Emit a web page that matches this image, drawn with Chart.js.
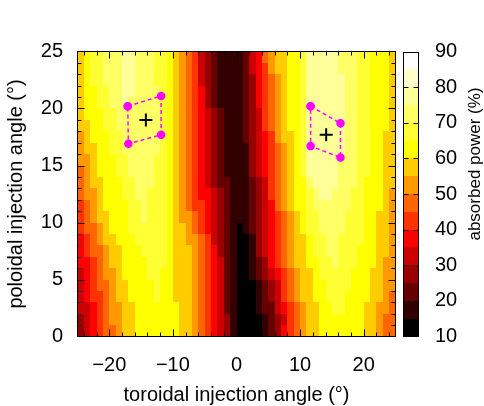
<!DOCTYPE html>
<html>
<head>
<meta charset="utf-8">
<script src="https://cdn.jsdelivr.net/npm/chart.js@4.4.1/dist/chart.umd.min.js"></script>
<style>
  html, body { margin: 0; padding: 0; background: #fff; }
  canvas { display: block; }
</style>
</head>
<body>
<canvas id="power-map" width="484" height="406"></canvas>
<script>
// cell centres (deg)
const toroidal = [-24.5, -23.5, -22.5, -21.5, -20.5, -19.5, -18.5, -17.5, -16.5, -15.5,
                  -14.5, -13.5, -12.5, -11.5, -10.5, -9.5, -8.5, -7.5, -6.5, -5.5,
                  -4.5, -3.5, -2.5, -1.5, -0.5, 0.5, 1.5, 2.5, 3.5, 4.5,
                  5.5, 6.5, 7.5, 8.5, 9.5, 10.5, 11.5, 12.5, 13.5, 14.5,
                  15.5, 16.5, 17.5, 18.5, 19.5, 20.5, 21.5, 22.5, 23.5, 24.5];
const poloidal = [24.5, 23.5, 22.5, 21.5, 20.5, 19.5, 18.5, 17.5, 16.5, 15.5, 14.5, 13.5,
                  12.5, 11.5, 10.5, 9.5, 8.5, 7.5, 6.5, 5.5, 4.5, 3.5, 2.5, 1.5, 0.5];

// absorbed power band per cell, one hex digit: 0 = 10-15 %, 1 = 15-20 % ... F = 85-90 %
// rows follow `poloidal` (top row first), columns follow `toroidal` (groups of 10)
const absorbedBands = [
  "9ABBCCCDDC CCBBA98764 3211112457 899AABDDDD DCCCBBAAA9",
  "9ABBCCCDDC CCBBA98764 3211112456 899AABDDDD DCCCBBAAA9",
  "9ABBCCCDDC CCBBA98764 3211112356 789AABDDDD DDCCBBAAA9",
  "9AABBCCDDC CCCBA98765 3211112356 789AABDDDD DDCCBBAAA9",
  "9AABBCCDCC CCCBA98765 3211112356 789AABDDDD DDCCBBAAA9",
  "9AAABBCCCC CCCBA98765 4321112346 789AABDDDD DDCCBBAAA9",
  "99AABBCCCC CCCBA98765 4321112346 789AABDDDD DDCCBBAAA9",
  "89AAABBCCC CCCBA98765 4321112345 6899ABDDDD DDCCBBAA99",
  "899AABBCCC CCCBA98765 4321111345 6789ABDDDD DDCCBBAA99",
  "889AAABBCC CCBBA98765 4321111345 6789ABDDDD DCCCBBAA99",
  "789AAABBCC CCBBA98765 4321111345 6789ABDDDD DCCCBBAA99",
  "7899AAABBC CCBBA98765 4322111234 6789AACDDD DCCCBAAA99",
  "7889AAABBC CBBBA98765 5432111234 6789AABCDD CCCBBAAA98",
  "6789AAAABB CBBBA98766 5432111234 5789AABCCC CCCBBAAA98",
  "67899AAABB CBBBA98876 5432111234 56789ABBCC CCBBBAA998",
  "67789AAABB BBBBA99876 5432101234 56789ABBCC CCBBBAA998",
  "567899AAAB BBBBA99887 6432100134 567899ABBC CBBBBAA998",
  "5677899AAA BBBBA99987 6532100134 567899ABBC CBBBAAA998",
  "5567899AAA ABBBA99987 6542100123 567899AABB CBBBAAA988",
  "4567889AAA ABBAA99987 6542100123 4567899ABB BBBAAA9988",
  "45677899AA AABAA99987 6542100012 3467899AAB BBBAAA9988",
  "45667899AA AABAA99987 6542100012 3467899AAB BBAAAA9987",
  "445678899A AAAAAA9987 6542100012 24567899AA BBAAA99887",
  "345678899A AAAAAA9987 6543100001 23467899AA AAAAA99877",
  "345677899A AAAAAA9987 6543100001 23567899AA AAAAA99877"
].map(s => s.replace(/ /g, ''));

// colour bar bands (%)
const bandEdges = [10, 15, 20, 25, 30, 35, 40, 45, 50, 55, 60, 65, 70, 75, 80, 85, 90];
const palette = ['#000000', '#330000', '#660000', '#990000', '#cc0000', '#ff0000', '#ff3300', '#ff6600',
                 '#ff9900', '#ffcc00', '#ffff00', '#ffff33', '#ffff66', '#ffff99', '#ffffcc', '#ffffff'];

// launcher ranges (corners, closed) and optimum points
const leftBeamTor = [-17.1, -11.85, -11.85, -17.0, -17.1];
const leftBeamPol = [20.2, 21.1, 17.7, 16.9, 20.2];
const rightBeamTor = [11.65, 16.35, 16.35, 11.65, 11.65];
const rightBeamPol = [20.2, 18.7, 15.7, 16.7, 20.2];
const optimumTor = [-14.25, 14.1];
const optimumPol = [19.0, 17.7];

// tick labels
const xTicks = [-20, -10, 0, 10, 20];
const yTicks = [0, 5, 10, 15, 20, 25];
const cbTicks = [10, 20, 30, 40, 50, 60, 70, 80, 90];

const FONT = '"Liberation Sans", Arial, sans-serif';
const fmt = v => (v < 0 ? '\u2212' + Math.abs(v) : String(v));
const pts = (xs, ys) => xs.map((v, i) => ({ x: v, y: ys[i] }));

const heatmap = {
  id: 'heatmap',
  beforeDatasetsDraw(chart) {
    const { ctx, scales: { x, y, cb } } = chart;
    ctx.save();
    absorbedBands.forEach((row, r) => {
      const yTop = Math.round(y.getPixelForValue(poloidal[r] + 0.5));
      const yBot = Math.round(y.getPixelForValue(poloidal[r] - 0.5));
      for (let i = 0; i < toroidal.length; i++) {
        const x0 = Math.round(x.getPixelForValue(toroidal[i] - 0.5));
        const x1 = Math.round(x.getPixelForValue(toroidal[i] + 0.5));
        ctx.fillStyle = palette[parseInt(row[i], 16)];
        ctx.fillRect(x0, yTop, x1 - x0, yBot - yTop);
      }
    });
    // colour bar
    const cbL = 403, cbR = 419;
    for (let k = 0; k < palette.length; k++) {
      const yA = Math.round(cb.getPixelForValue(bandEdges[k + 1]));
      const yB = Math.round(cb.getPixelForValue(bandEdges[k]));
      ctx.fillStyle = palette[k];
      ctx.fillRect(cbL, yA, cbR - cbL, yB - yA);
    }
    ctx.restore();
  },
  afterDatasetsDraw(chart) {
    const { ctx, chartArea: a, scales: { x, y, cb } } = chart;
    ctx.save();
    ctx.strokeStyle = '#000';
    ctx.lineWidth = 1;
    const line = (x0, y0, x1, y1) => { ctx.beginPath(); ctx.moveTo(x0, y0); ctx.lineTo(x1, y1); ctx.stroke(); };
    ctx.strokeRect(a.left, a.top, a.right - a.left, a.bottom - a.top);
    for (let v = -24; v <= 24; v += 2) {
      const px = Math.round(x.getPixelForValue(v)) + 0.5;
      const len = v % 10 === 0 ? 7 : 4;
      line(px, a.bottom, px, a.bottom - len);
      line(px, a.top, px, a.top + len);
    }
    for (let v = 1; v < 25; v++) {
      const py = Math.round(y.getPixelForValue(v)) + 0.5;
      const len = v % 5 === 0 ? 7 : 4;
      line(a.left, py, a.left + len, py);
      line(a.right, py, a.right - len, py);
    }
    // colour bar frame + ticks
    const cbL = 403.5, cbR = 418.5;
    const cTop = Math.round(cb.getPixelForValue(90)) + 0.5, cBot = Math.round(cb.getPixelForValue(10)) - 0.5;
    ctx.strokeRect(cbL, cTop, cbR - cbL, cBot - cTop);
    for (let v = 20; v <= 80; v += 10) {
      const py = Math.round(cb.getPixelForValue(v)) + 0.5;
      line(cbL, py, cbL + 5, py);
      line(cbR, py, cbR - 5, py);
    }
    // axis titles
    ctx.fillStyle = '#000';
    ctx.textAlign = 'center';
    ctx.textBaseline = 'alphabetic';
    ctx.font = '20px ' + FONT;
    ctx.fillText('toroidal injection angle (\u00b0)', (a.left + a.right) / 2, 401);
    ctx.save();
    ctx.translate(22, (a.top + a.bottom) / 2);
    ctx.rotate(-Math.PI / 2);
    ctx.fillText('poloidal injection angle (\u00b0)', 0, 0);
    ctx.restore();
    ctx.save();
    ctx.font = '17px ' + FONT;
    ctx.translate(480, 164);
    ctx.rotate(-Math.PI / 2);
    ctx.fillText('absorbed power (%)', 0, 0);
    ctx.restore();
    ctx.restore();
  }
};

const tickFont = { family: FONT, size: 20 };

new Chart(document.getElementById('power-map'), {
  type: 'scatter',
  data: {
    datasets: [
      {
        data: pts(leftBeamTor, leftBeamPol),
        showLine: true, borderColor: '#ff00ff', borderWidth: 1.5, borderDash: [4, 3],
        pointRadius: 3.5, pointBackgroundColor: '#ff00ff', pointBorderColor: '#ff00ff'
      },
      {
        data: pts(rightBeamTor, rightBeamPol),
        showLine: true, borderColor: '#ff00ff', borderWidth: 1.5, borderDash: [4, 3],
        pointRadius: 3.5, pointBackgroundColor: '#ff00ff', pointBorderColor: '#ff00ff'
      },
      {
        data: pts(optimumTor, optimumPol),
        pointStyle: 'cross', pointRadius: 6.5, pointBorderWidth: 2, pointBorderColor: '#000', borderColor: '#000'
      }
    ]
  },
  options: {
    responsive: false,
    animation: false,
    layout: { padding: { top: 19.5, left: 0, right: 0, bottom: 0 } },
    plugins: { legend: { display: false }, tooltip: { enabled: false } },
    scales: {
      x: {
        type: 'linear', min: -25, max: 25, position: 'bottom',
        afterBuildTicks: s => { s.ticks = xTicks.map(v => ({ value: v })); },
        afterFit: s => { s.height = 69.5; },
        grid: { display: false, drawTicks: false }, border: { display: false },
        ticks: { autoSkip: false, maxRotation: 0, padding: 17, color: '#000', font: tickFont, callback: v => fmt(v) }
      },
      y: {
        type: 'linear', min: 0, max: 25, position: 'left',
        afterBuildTicks: s => { s.ticks = yTicks.map(v => ({ value: v })); },
        afterFit: s => { s.width = 77.5; },
        grid: { display: false, drawTicks: false }, border: { display: false },
        ticks: { autoSkip: false, padding: 14.5, color: '#000', font: tickFont, callback: v => fmt(v) }
      },
      cb: {
        type: 'linear', min: 10, max: 90, position: 'right',
        afterBuildTicks: s => { s.ticks = cbTicks.map(v => ({ value: v })); },
        afterFit: s => { s.width = 88.5; },
        grid: { display: false, drawTicks: false }, border: { display: false },
        ticks: { autoSkip: false, padding: 39.5, color: '#000', font: tickFont, callback: v => String(v) }
      }
    }
  },
  plugins: [heatmap]
});
</script>
</body>
</html>
